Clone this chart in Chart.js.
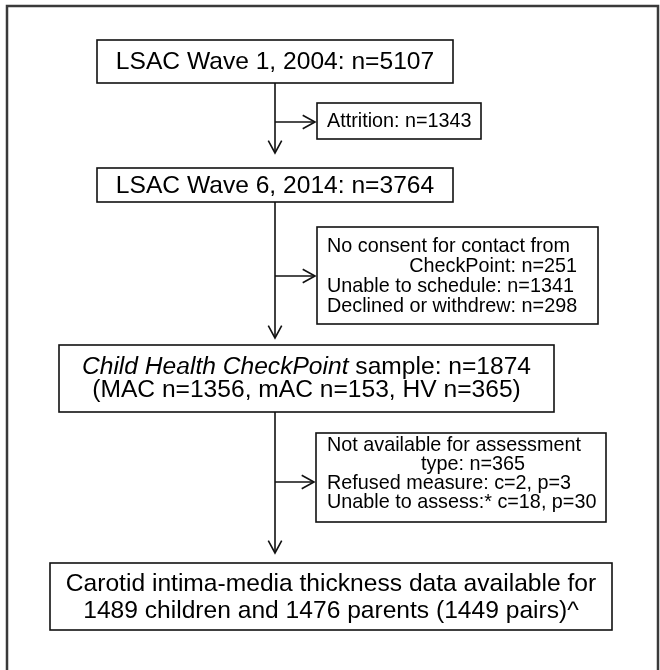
<!DOCTYPE html>
<html>
<head>
<meta charset="utf-8">
<script src="https://cdn.jsdelivr.net/npm/chart.js@4.4.1/dist/chart.umd.min.js"></script>
<style>
  html, body { margin: 0; padding: 0; background: #ffffff; }
  #wrap { width: 660px; height: 670px; }
</style>
</head>
<body>
<div id="wrap"><canvas id="c" width="660" height="670"></canvas></div>
<script>
// ---------- DATA (flow of participants) ----------
const stageTitles = ['LSAC Wave 1, 2004', 'LSAC Wave 6, 2014', 'Child Health CheckPoint', 'Carotid intima-media thickness data available for'];
const stageCounts = [5107, 3764, 1874];
const subgroupNames = ['MAC', 'mAC', 'HV'];
const subgroupCounts = [1356, 153, 365];
const finalChildren = 1489;
const finalParents = 1476;
const finalPairs = 1449;
const attritionCount = 1343;
const noConsentCount = 251;
const unableScheduleCount = 1341;
const declinedCount = 298;
const notAvailableTypeCount = 365;
const refusedChild = 2, refusedParent = 3;
const unableAssessChild = 18, unableAssessParent = 30;

// ---------- LAYOUT (chart-space coordinates, separate from data) ----------
const layout = {
  spineX: 275,
  box1: { x0: 97, x1: 453, y0: 40, y1: 83 },
  box2: { x0: 97, x1: 453, y0: 168, y1: 202 },
  box3: { x0: 59, x1: 554, y0: 345, y1: 412 },
  box4: { x0: 50, x1: 612, y0: 563, y1: 630 },
  ex1: { x0: 317, x1: 481, y0: 103, y1: 139, arrowY: 122 },
  ex2: { x0: 317, x1: 598, y0: 227, y1: 324, arrowY: 276 },
  ex3: { x0: 316, x1: 606, y0: 433, y1: 522, arrowY: 482 },
  downTips: [153, 338, 553]
};
const FONT = 'Arial, "Liberation Sans", Helvetica, sans-serif';
const M = 24.6, S = 19.8;

function drawFlow(chart) {
  const ctx = chart.ctx;
  const xs = chart.scales.x, ys = chart.scales.y;
  const X = v => xs.getPixelForValue(v);
  const Y = v => ys.getPixelForValue(v);

  ctx.save();
  // outer frame
  ctx.strokeStyle = '#3a3a3a';
  ctx.lineWidth = 2.5;
  ctx.beginPath();
  ctx.moveTo(X(7), Y(700));
  ctx.lineTo(X(7), Y(6));
  ctx.lineTo(X(658), Y(6));
  ctx.lineTo(X(658), Y(700));
  ctx.stroke();

  function box(b) {
    ctx.strokeStyle = '#111';
    ctx.lineWidth = 1.6;
    ctx.strokeRect(X(b.x0), Y(b.y0), X(b.x1) - X(b.x0), Y(b.y1) - Y(b.y0));
  }
  function text(str, x, y, size, align, italic) {
    ctx.save();
    ctx.font = (italic ? 'italic ' : '') + size + 'px ' + FONT;
    ctx.fillStyle = '#000';
    ctx.textBaseline = 'middle';
    ctx.textAlign = align;
    ctx.fillText(str, X(x), Y(y));
    ctx.restore();
  }
  function measure(str, size, italic) {
    ctx.font = (italic ? 'italic ' : '') + size + 'px ' + FONT;
    return ctx.measureText(str).width;
  }
  function line(x1, y1, x2, y2) {
    ctx.beginPath();
    ctx.moveTo(X(x1), Y(y1));
    ctx.lineTo(X(x2), Y(y2));
    ctx.stroke();
  }
  function arrow(x1, y1, x2, y2) {
    ctx.strokeStyle = '#111';
    ctx.lineWidth = 1.6;
    line(x1, y1, x2, y2);
    const ang = Math.atan2(Y(y2) - Y(y1), X(x2) - X(x1));
    const L = 14, a = 0.5;
    ctx.beginPath();
    ctx.moveTo(X(x2) - L * Math.cos(ang - a), Y(y2) - L * Math.sin(ang - a));
    ctx.lineTo(X(x2), Y(y2));
    ctx.lineTo(X(x2) - L * Math.cos(ang + a), Y(y2) - L * Math.sin(ang + a));
    ctx.stroke();
  }

  const sx = layout.spineX;
  arrow(sx, layout.box1.y1, sx, layout.downTips[0]);
  arrow(sx, layout.box2.y1, sx, layout.downTips[1]);
  arrow(sx, layout.box3.y1, sx, layout.downTips[2]);
  arrow(sx, layout.ex1.arrowY, layout.ex1.x0 - 2, layout.ex1.arrowY);
  arrow(sx, layout.ex2.arrowY, layout.ex2.x0 - 2, layout.ex2.arrowY);
  arrow(sx, layout.ex3.arrowY, layout.ex3.x0 - 2, layout.ex3.arrowY);

  [layout.box1, layout.box2, layout.box3, layout.box4, layout.ex1, layout.ex2, layout.ex3].forEach(box);

  const b1 = layout.box1, b2 = layout.box2, b3 = layout.box3, b4 = layout.box4;
  text(stageTitles[0] + ': n=' + stageCounts[0], (b1.x0 + b1.x1) / 2, (b1.y0 + b1.y1) / 2 + 1, M, 'center');
  text(stageTitles[1] + ': n=' + stageCounts[1], (b2.x0 + b2.x1) / 2, (b2.y0 + b2.y1) / 2 + 1, M, 'center');

  const it = stageTitles[2];
  const rg = ' sample: n=' + stageCounts[2];
  const wIt = measure(it, M, true), wRg = measure(rg, M, false);
  const c3 = (b3.x0 + b3.x1) / 2;
  const start = X(c3) - (wIt + wRg) / 2;
  text(it, xs.getValueForPixel(start), 367, M, 'left', true);
  text(rg, xs.getValueForPixel(start + wIt), 367, M, 'left', false);
  const l2 = '(' + subgroupNames.map((g, i) => g + ' n=' + subgroupCounts[i]).join(', ') + ')';
  text(l2, c3, 390, M, 'center');

  const c4 = (b4.x0 + b4.x1) / 2;
  text(stageTitles[3], c4, 584, M, 'center');
  text(finalChildren + ' children and ' + finalParents + ' parents (' + finalPairs + ' pairs)^', c4, 611, M, 'center');

  text('Attrition: n=' + attritionCount, 327, 122, S, 'left');
  text('No consent for contact from', 327, 247, S, 'left');
  text('CheckPoint: n=' + noConsentCount, 577, 267, S, 'right');
  text('Unable to schedule: n=' + unableScheduleCount, 327, 287, S, 'left');
  text('Declined or withdrew: n=' + declinedCount, 327, 307, S, 'left');

  text('Not available for assessment', 327, 446, S, 'left');
  text('type: n=' + notAvailableTypeCount, 421, 465, S, 'left');
  text('Refused measure: c=' + refusedChild + ', p=' + refusedParent, 327, 484, S, 'left');
  text('Unable to assess:* c=' + unableAssessChild + ', p=' + unableAssessParent, 327, 503, S, 'left');

  ctx.restore();
}

new Chart(document.getElementById('c'), {
  type: 'scatter',
  data: { datasets: [{ data: [], pointRadius: 0 }] },
  options: {
    responsive: false,
    animation: false,
    layout: { padding: 0 },
    plugins: { legend: { display: false }, tooltip: { enabled: false } },
    scales: {
      x: { type: 'linear', min: 0, max: 660, display: false },
      y: { type: 'linear', min: 0, max: 670, reverse: true, display: false }
    }
  },
  plugins: [{ id: 'flow', afterDraw: drawFlow }]
});
</script>
</body>
</html>
